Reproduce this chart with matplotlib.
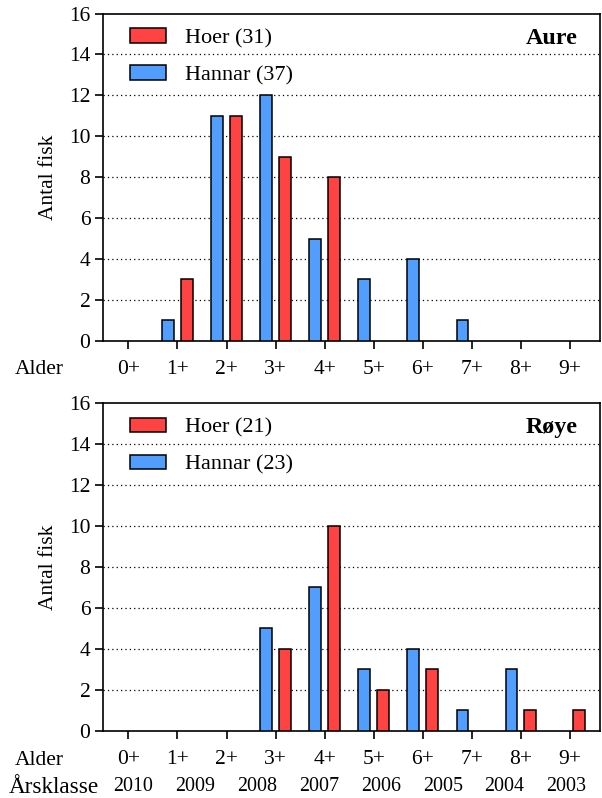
import numpy as np
import matplotlib
matplotlib.use('Agg')
import matplotlib.pyplot as plt

plt.rcParams['font.family'] = ['Liberation Serif', 'DejaVu Serif']

# data
ages = ['0+', '1+', '2+', '3+', '4+', '5+', '6+', '7+', '8+', '9+']
years = ['2010', '2009', '2008', '2007', '2006', '2005', '2004', '2003']

aure_hoer = [0, 3, 11, 9, 8, 0, 0, 0, 0, 0]
aure_hannar = [0, 1, 11, 12, 5, 3, 4, 1, 0, 0]
roye_hoer = [0, 0, 0, 4, 10, 2, 3, 0, 1, 1]
roye_hannar = [0, 0, 0, 5, 7, 3, 4, 1, 3, 0]

c_hoer = '#FF4242'
c_hannar = '#529EFF'

fig = plt.figure(figsize=(6.02, 7.98), dpi=100)
ax1 = fig.add_axes([0.171, 0.573, 0.826, 0.41])
ax2 = fig.add_axes([0.171, 0.084, 0.826, 0.411])

x = np.arange(len(ages))
w = 0.24
off = 0.19


def draw(ax, hoer, hannar, title):
    hoer = np.array(hoer)
    hannar = np.array(hannar)
    mb = hannar > 0
    mr = hoer > 0
    ax.bar(x[mb] - off, hannar[mb], w, color=c_hannar, edgecolor='black', lw=1.1, zorder=3)
    ax.bar(x[mr] + off, hoer[mr], w, color=c_hoer, edgecolor='black', lw=1.1, zorder=3)
    ax.set_xlim(-0.52, 9.62)
    ax.set_ylim(0, 16)
    ax.set_yticks(range(0, 17, 2))
    ax.set_xticks(x)
    ax.set_xticklabels(ages)
    for yy in range(2, 16, 2):
        ax.axhline(yy, color='black', ls=(0, (1, 2.5)), lw=0.9, zorder=1)
    for s in ax.spines.values():
        s.set_linewidth(1.2)
    ax.tick_params(direction='out', length=6, width=1.2, labelsize=15.5, pad=3)
    ax.tick_params(axis='x', pad=8)
    ax.set_ylabel('Antal fisk', fontsize=15.5, labelpad=8)
    # legend patches
    h_r = plt.Rectangle((0, 0), 1, 1, fc=c_hoer, ec='black', lw=1.1)
    h_b = plt.Rectangle((0, 0), 1, 1, fc=c_hannar, ec='black', lw=1.1)
    ax.legend([h_r, h_b], ['Hoer (%d)' % sum(hoer), 'Hannar (%d)' % sum(hannar)],
              loc='upper left', bbox_to_anchor=(0.036, 0.982), borderaxespad=0,
              frameon=False, fontsize=16, handlelength=1.63, handleheight=0.64,
              labelspacing=0.75, handletextpad=0.86)
    ax.text(0.955, 0.924, title, transform=ax.transAxes, ha='right', va='center',
            fontsize=17.3, fontweight='bold')
    ax.text(-0.177, -0.089, 'Alder', transform=ax.transAxes, ha='left', va='center',
            fontsize=15.5)


draw(ax1, aure_hoer, aure_hannar, 'Aure')
draw(ax2, roye_hoer, roye_hannar, 'Røye')

# Årsklasse row
ax2.text(-0.19, -0.172, 'Årsklasse', transform=ax2.transAxes, ha='left', va='center',
         fontsize=16.7)
for xp, yr in zip(np.linspace(0.1, 8.93, len(years)), years):
    ax2.text(xp, -0.17, yr, transform=ax2.get_xaxis_transform(), ha='center',
             va='center', fontsize=14.4)

fig.savefig('out.png', dpi=100)
